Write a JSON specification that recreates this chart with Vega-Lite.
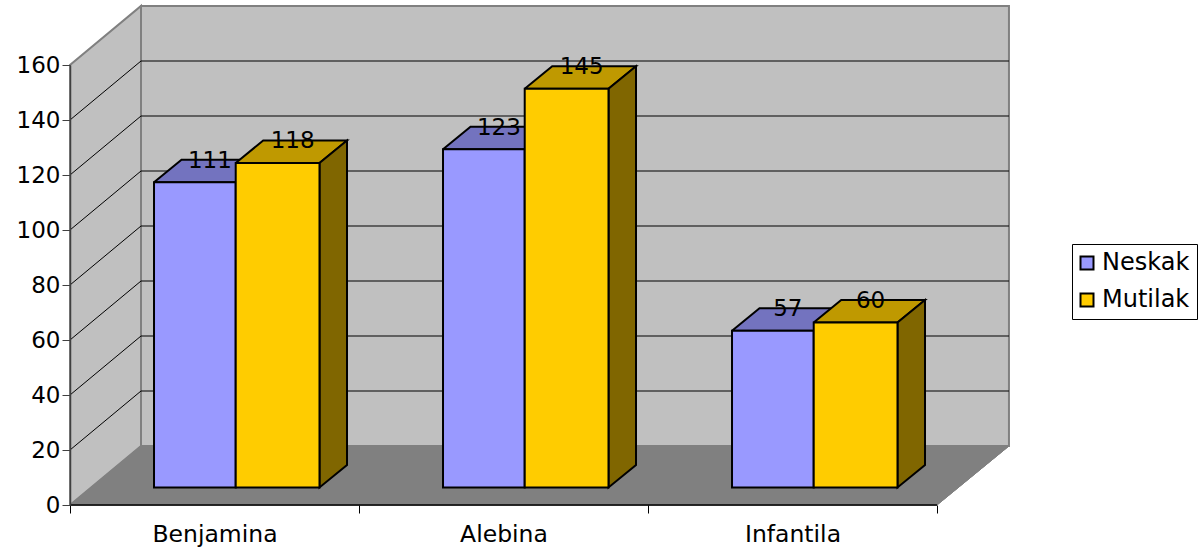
{
"$schema":"https://vega.github.io/schema/vega-lite/v6.json",
"autosize":{"type":"none"},
"padding":{"left":70,"top":6,"right":190,"bottom":43},
"width":940,"height":499,
"background":"white",
"config":{"view":{"stroke":null},"font":"DejaVu Sans"},
"datasets":{
"shell":[
{"poly":"floor","i":0,"x":0,"y":0},{"poly":"floor","i":1,"x":0.2457,"y":21.45},{"poly":"floor","i":2,"x":3.249,"y":21.45},{"poly":"floor","i":3,"x":3.0,"y":0},{"poly":"floor","i":4,"x":0,"y":0},
{"poly":"left","i":0,"x":0,"y":0},{"poly":"left","i":1,"x":0.2457,"y":21.45},{"poly":"left","i":2,"x":0.2457,"y":181.45},{"poly":"left","i":3,"x":0,"y":160},{"poly":"left","i":4,"x":0,"y":0},
{"poly":"back","i":0,"x":0.2457,"y":21.45},{"poly":"back","i":1,"x":3.249,"y":21.45},{"poly":"back","i":2,"x":3.249,"y":181.45},{"poly":"back","i":3,"x":0.2457,"y":181.45},{"poly":"back","i":4,"x":0.2457,"y":21.45}
],
"baseline":[{"i":0,"x":0,"y":0},{"i":1,"x":3,"y":0}],
"grid":[
{"level":20,"i":0,"x":0,"y":20},{"level":20,"i":1,"x":0.2457,"y":41.45},{"level":20,"i":2,"x":3.249,"y":41.45},
{"level":40,"i":0,"x":0,"y":40},{"level":40,"i":1,"x":0.2457,"y":61.45},{"level":40,"i":2,"x":3.249,"y":61.45},
{"level":60,"i":0,"x":0,"y":60},{"level":60,"i":1,"x":0.2457,"y":81.45},{"level":60,"i":2,"x":3.249,"y":81.45},
{"level":80,"i":0,"x":0,"y":80},{"level":80,"i":1,"x":0.2457,"y":101.45},{"level":80,"i":2,"x":3.249,"y":101.45},
{"level":100,"i":0,"x":0,"y":100},{"level":100,"i":1,"x":0.2457,"y":121.45},{"level":100,"i":2,"x":3.249,"y":121.45},
{"level":120,"i":0,"x":0,"y":120},{"level":120,"i":1,"x":0.2457,"y":141.45},{"level":120,"i":2,"x":3.249,"y":141.45},
{"level":140,"i":0,"x":0,"y":140},{"level":140,"i":1,"x":0.2457,"y":161.45},{"level":140,"i":2,"x":3.249,"y":161.45}
],
"faces":[
{"face":"topN","poly":"a","i":0,"x":0.2907,"y":111},{"face":"topN","poly":"a","i":1,"x":0.5734,"y":111},{"face":"topN","poly":"a","i":2,"x":0.6686,"y":119.18},{"face":"topN","poly":"a","i":3,"x":0.3859,"y":119.18},{"face":"topN","poly":"a","i":4,"x":0.2907,"y":111},
{"face":"topN","poly":"b","i":0,"x":1.2907,"y":123},{"face":"topN","poly":"b","i":1,"x":1.5734,"y":123},{"face":"topN","poly":"b","i":2,"x":1.6686,"y":131.18},{"face":"topN","poly":"b","i":3,"x":1.3859,"y":131.18},{"face":"topN","poly":"b","i":4,"x":1.2907,"y":123},
{"face":"topN","poly":"c","i":0,"x":2.2907,"y":57},{"face":"topN","poly":"c","i":1,"x":2.5734,"y":57},{"face":"topN","poly":"c","i":2,"x":2.6686,"y":65.18},{"face":"topN","poly":"c","i":3,"x":2.3859,"y":65.18},{"face":"topN","poly":"c","i":4,"x":2.2907,"y":57},
{"face":"topM","poly":"a","i":0,"x":0.5734,"y":118},{"face":"topM","poly":"a","i":1,"x":0.8633,"y":118},{"face":"topM","poly":"a","i":2,"x":0.9585,"y":126.18},{"face":"topM","poly":"a","i":3,"x":0.6686,"y":126.18},{"face":"topM","poly":"a","i":4,"x":0.5734,"y":118},
{"face":"topM","poly":"b","i":0,"x":1.5734,"y":145},{"face":"topM","poly":"b","i":1,"x":1.8633,"y":145},{"face":"topM","poly":"b","i":2,"x":1.9585,"y":153.18},{"face":"topM","poly":"b","i":3,"x":1.6686,"y":153.18},{"face":"topM","poly":"b","i":4,"x":1.5734,"y":145},
{"face":"topM","poly":"c","i":0,"x":2.5734,"y":60},{"face":"topM","poly":"c","i":1,"x":2.8633,"y":60},{"face":"topM","poly":"c","i":2,"x":2.9585,"y":68.18},{"face":"topM","poly":"c","i":3,"x":2.6686,"y":68.18},{"face":"topM","poly":"c","i":4,"x":2.5734,"y":60},
{"face":"sideM","poly":"a","i":0,"x":0.8633,"y":118},{"face":"sideM","poly":"a","i":1,"x":0.9585,"y":126.18},{"face":"sideM","poly":"a","i":2,"x":0.9585,"y":8.18},{"face":"sideM","poly":"a","i":3,"x":0.8633,"y":0},{"face":"sideM","poly":"a","i":4,"x":0.8633,"y":118},
{"face":"sideM","poly":"b","i":0,"x":1.8633,"y":145},{"face":"sideM","poly":"b","i":1,"x":1.9585,"y":153.18},{"face":"sideM","poly":"b","i":2,"x":1.9585,"y":8.18},{"face":"sideM","poly":"b","i":3,"x":1.8633,"y":0},{"face":"sideM","poly":"b","i":4,"x":1.8633,"y":145},
{"face":"sideM","poly":"c","i":0,"x":2.8633,"y":60},{"face":"sideM","poly":"c","i":1,"x":2.9585,"y":68.18},{"face":"sideM","poly":"c","i":2,"x":2.9585,"y":8.18},{"face":"sideM","poly":"c","i":3,"x":2.8633,"y":0},{"face":"sideM","poly":"c","i":4,"x":2.8633,"y":60}
],
"bars":[
{"category":"Benjamina","series":"Neskak","value":111,"x0":0.2907,"x1":0.5734,"xc":0.432},
{"category":"Benjamina","series":"Mutilak","value":118,"x0":0.5734,"x1":0.8633,"xc":0.7183},
{"category":"Alebina","series":"Neskak","value":123,"x0":1.2907,"x1":1.5734,"xc":1.432},
{"category":"Alebina","series":"Mutilak","value":145,"x0":1.5734,"x1":1.8633,"xc":1.7183},
{"category":"Infantila","series":"Neskak","value":57,"x0":2.2907,"x1":2.5734,"xc":2.432},
{"category":"Infantila","series":"Mutilak","value":60,"x0":2.5734,"x1":2.8633,"xc":2.7183}
]
},
"resolve":{"scale":{"y":"independent"}},
"layer":[
{"data":{"name":"shell"},"transform":[{"filter":"datum.poly==='floor'"}],
"mark":{"type":"line","fill":"#808080","stroke":"#808080","strokeWidth":1},
"encoding":{
"x":{"field":"x","type":"quantitative","scale":{"domain":[0,3.2526],"nice":false,"zero":false},
"axis":{"title":null,"grid":false,"domain":false,"zindex":1,"values":[0,0.5,1,1.5,2,2.5,3],"labelExpr":"datum.value==0.5?'Benjamina':datum.value==1.5?'Alebina':datum.value==2.5?'Infantila':''","tickOpacity":{"condition":{"test":"datum.value%1==0","value":1},"value":0},"labelFontSize":23.5,"labelFont":"DejaVu Sans","labelColor":"#000000","labelPadding":9,"tickSize":8,"tickColor":"#000000","labelFlush":false,"labelOverlap":false,"labelAngle":0}},
"y":{"field":"y","type":"quantitative","scale":{"domain":[0,160],"range":[499,59],"nice":false,"zero":false},
"axis":{"title":null,"grid":false,"zindex":1,"values":[0,20,40,60,80,100,120,140,160],"labelFontSize":23,"labelFont":"DejaVu Sans","labelColor":"#000000","labelPadding":2,"tickSize":8,"tickColor":"#404040","domainColor":"#404040","domainWidth":1.5}},
"detail":{"field":"poly"},"order":{"field":"i"}}},
{"data":{"name":"shell"},"transform":[{"filter":"datum.poly!=='floor'"}],
"mark":{"type":"line","fill":"#C0C0C0","stroke":"#808080","strokeWidth":2},
"encoding":{
"x":{"field":"x","type":"quantitative","title":null},
"y":{"field":"y","type":"quantitative","scale":{"domain":[0,181.45],"nice":false,"zero":false},"axis":null},
"detail":{"field":"poly"},"order":{"field":"i"}}},
{"data":{"name":"shell"},"transform":[{"filter":"datum.poly==='floor'"}],
"mark":{"type":"line","fill":"#808080","stroke":"#808080","strokeWidth":1},
"encoding":{
"x":{"field":"x","type":"quantitative","title":null},
"y":{"field":"y","type":"quantitative","scale":{"domain":[0,181.45],"nice":false,"zero":false},"axis":null},
"detail":{"field":"poly"},"order":{"field":"i"}}},
{"data":{"name":"grid"},
"mark":{"type":"line","stroke":"#000000","strokeWidth":1},
"encoding":{
"x":{"field":"x","type":"quantitative","title":null},
"y":{"field":"y","type":"quantitative","scale":{"domain":[0,181.45],"nice":false,"zero":false},"axis":null},
"detail":{"field":"level"},"order":{"field":"i"}}},
{"data":{"name":"baseline"},
"mark":{"type":"line","stroke":"#000000","strokeWidth":1.5},
"encoding":{
"x":{"field":"x","type":"quantitative","title":null},
"y":{"field":"y","type":"quantitative","scale":{"domain":[0,181.45],"nice":false,"zero":false},"axis":null},
"order":{"field":"i"}}},
{"data":{"name":"faces"},"transform":[{"filter":"datum.face==='topN'"}],
"mark":{"type":"line","fill":"#7373BF","stroke":"#000000","strokeWidth":2},
"encoding":{
"x":{"field":"x","type":"quantitative","title":null},
"y":{"field":"y","type":"quantitative","scale":{"domain":[-6.364,175.09],"nice":false,"zero":false},"axis":null},
"detail":{"field":"poly"},"order":{"field":"i"}}},
{"data":{"name":"faces"},"transform":[{"filter":"datum.face==='topM'"}],
"mark":{"type":"line","fill":"#BF9900","stroke":"#000000","strokeWidth":2},
"encoding":{
"x":{"field":"x","type":"quantitative","title":null},
"y":{"field":"y","type":"quantitative","scale":{"domain":[-6.364,175.09],"nice":false,"zero":false},"axis":null},
"detail":{"field":"poly"},"order":{"field":"i"}}},
{"data":{"name":"faces"},"transform":[{"filter":"datum.face==='sideM'"}],
"mark":{"type":"line","fill":"#806600","stroke":"#000000","strokeWidth":2},
"encoding":{
"x":{"field":"x","type":"quantitative","title":null},
"y":{"field":"y","type":"quantitative","scale":{"domain":[-6.364,175.09],"nice":false,"zero":false},"axis":null},
"detail":{"field":"poly"},"order":{"field":"i"}}},
{"data":{"name":"bars"},
"mark":{"type":"rect","stroke":"#000000","strokeWidth":2},
"encoding":{
"x":{"field":"x0","type":"quantitative","title":null},
"x2":{"field":"x1"},
"y":{"field":"value","type":"quantitative","scale":{"domain":[-6.364,175.09],"nice":false,"zero":false},"axis":null},
"y2":{"datum":0},
"fill":{"field":"series","type":"nominal","scale":{"domain":["Neskak","Mutilak"],"range":["#9999FF","#FFCC00"]},
"legend":{"title":null,"orient":"none","legendX":1002,"legendY":238,"symbolType":"square","symbolSize":169,"symbolStrokeWidth":2,"symbolStrokeColor":"#000000","symbolOffset":-4,"labelFontSize":24,"labelFont":"DejaVu Sans","labelColor":"#000000","labelOffset":3,"rowPadding":13,"padding":7,"strokeColor":"#000000","fillColor":"#FFFFFF"}}}},
{"data":{"name":"bars"},
"mark":{"type":"text","fontSize":23,"font":"DejaVu Sans","color":"#000000","align":"center","baseline":"middle","dx":15,"dy":-21.5},
"encoding":{
"x":{"field":"xc","type":"quantitative","title":null},
"y":{"field":"value","type":"quantitative","scale":{"domain":[-6.364,175.09],"nice":false,"zero":false},"axis":null},
"text":{"field":"value","type":"quantitative"}}}
]
}
